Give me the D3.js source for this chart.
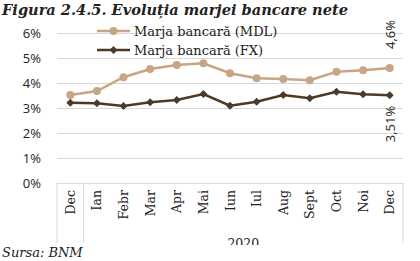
<!DOCTYPE html>
<html><head><meta charset="utf-8">
<script src="https://cdn.jsdelivr.net/npm/d3@7"></script>
<style>html,body{margin:0;padding:0;background:#fff;}svg{display:block;}</style>
</head><body>
<svg id="chart" width="420" height="261"></svg>
<script>
const categories = ["Dec","Ian","Febr","Mar","Apr","Mai","Iun","Iul","Aug","Sept","Oct","Noi","Dec"];
const mdlValues = [3.52,3.68,4.23,4.56,4.72,4.79,4.39,4.19,4.16,4.11,4.45,4.51,4.60];
const fxValues  = [3.21,3.19,3.08,3.23,3.32,3.56,3.09,3.25,3.52,3.39,3.65,3.55,3.51];
const yTicks = [0,1,2,3,4,5,6];
const seriesNames = ["Marja bancară (MDL)","Marja bancară (FX)"];
const lastLabels = ["4,6%","3,51%"];
const groupLabel = "2020";
const titleText = "Figura 2.4.5. Evoluția marjei bancare nete";
const sourceText = "Sursa: BNM";

const colMDL = "#c6a684", colFX = "#4b3a28", gridCol = "#d9d9d9";
const serif = "'DejaVu Serif', serif";
const sans = "'Open Sans', 'DejaVu Sans', sans-serif";

const svg = d3.select("#chart");
const L = 57, R = 403, T = 33, B = 183;
const x = d3.scaleBand().domain(d3.range(categories.length)).range([L, R]);
const y = d3.scaleLinear().domain([0, 6]).range([B, T]);

// title
svg.append("text").attr("x", 2).attr("y", 15)
  .attr("font-family", serif).attr("font-style", "italic").attr("font-weight", "bold")
  .attr("font-size", 15).attr("fill", "#222")
  .attr("textLength", 346).attr("lengthAdjust", "spacingAndGlyphs").text(titleText);

// gridlines + y labels
const yAxis = d3.axisLeft(y).tickValues(yTicks).tickSize(-(R - L)).tickFormat(d => d + "%");
const gy = svg.append("g").attr("transform", `translate(${L},0)`).call(yAxis);
gy.select(".domain").remove();
gy.selectAll(".tick line").attr("stroke", gridCol).attr("stroke-width", 1);
gy.selectAll(".tick text").attr("x", -16).attr("font-family", sans).attr("font-size", 13).attr("fill", "#222");

// category axis box
const axisBottom = 243;
svg.append("g").selectAll("line").data([L, x(1), R]).join("line")
  .attr("x1", d => d).attr("x2", d => d).attr("y1", B).attr("y2", axisBottom)
  .attr("stroke", gridCol);

svg.append("g").selectAll("text").data(categories).join("text")
  .attr("transform", (d, i) => `translate(${x(i) + x.bandwidth() / 2 + 4.5},${B + 7}) rotate(-90)`)
  .attr("text-anchor", "end").attr("font-family", serif).attr("font-size", 12.5).attr("fill", "#222")
  .text(d => d);

svg.append("defs").append("clipPath").attr("id", "clipB").append("rect")
  .attr("x", 0).attr("y", 0).attr("width", 420).attr("height", 245);
svg.append("text").attr("clip-path", "url(#clipB)")
  .attr("x", (x(1) + R) / 2).attr("y", 248).attr("text-anchor", "middle")
  .attr("font-family", serif).attr("font-size", 12.5).attr("fill", "#222").text(groupLabel);

// lines
const cx = i => x(i) + x.bandwidth() / 2;
const line = d3.line().x((d, i) => cx(i)).y(d => y(d));
svg.append("path").datum(mdlValues).attr("d", line).attr("fill", "none").attr("stroke", colMDL).attr("stroke-width", 2.5);
svg.append("path").datum(fxValues).attr("d", line).attr("fill", "none").attr("stroke", colFX).attr("stroke-width", 2.5);

svg.append("g").selectAll("circle").data(mdlValues).join("circle")
  .attr("cx", (d, i) => cx(i)).attr("cy", d => y(d)).attr("r", 4).attr("fill", colMDL);
const diamond = d3.symbol().type(d3.symbolDiamond2).size(40);
svg.append("g").selectAll("path").data(fxValues).join("path")
  .attr("d", diamond).attr("transform", (d, i) => `translate(${cx(i)},${y(d)})`).attr("fill", colFX);

// last labels
const n = categories.length - 1;
svg.append("text").attr("transform", `translate(${cx(n) + 5},${y(mdlValues[n]) - 19}) rotate(-90)`)
  .attr("font-family", sans).attr("font-size", 13).attr("fill", "#222").text(lastLabels[0]);
svg.append("text").attr("transform", `translate(${cx(n) + 5},${y(fxValues[n]) + 47}) rotate(-90)`)
  .attr("font-family", sans).attr("font-size", 13).attr("fill", "#222").text(lastLabels[1]);

// legend
const lg = svg.append("g");
[[colMDL, 31, "c"], [colFX, 50, "d"]].forEach((s, k) => {
  lg.append("line").attr("x1", 97).attr("x2", 130).attr("y1", s[1]).attr("y2", s[1])
    .attr("stroke", s[0]).attr("stroke-width", 2.5);
  if (s[2] === "c") lg.append("circle").attr("cx", 113.5).attr("cy", s[1]).attr("r", 4).attr("fill", s[0]);
  else lg.append("path").attr("d", diamond).attr("transform", `translate(113.5,${s[1]})`).attr("fill", s[0]);
  lg.append("text").attr("x", 134).attr("y", s[1] + 4.5).attr("font-family", serif).attr("font-size", 13)
    .attr("fill", "#222").text(seriesNames[k]);
});

// source
svg.append("text").attr("x", 2).attr("y", 257).attr("font-family", serif).attr("font-style", "italic")
  .attr("font-size", 13).attr("fill", "#222").text(sourceText);
</script>
</body></html>
